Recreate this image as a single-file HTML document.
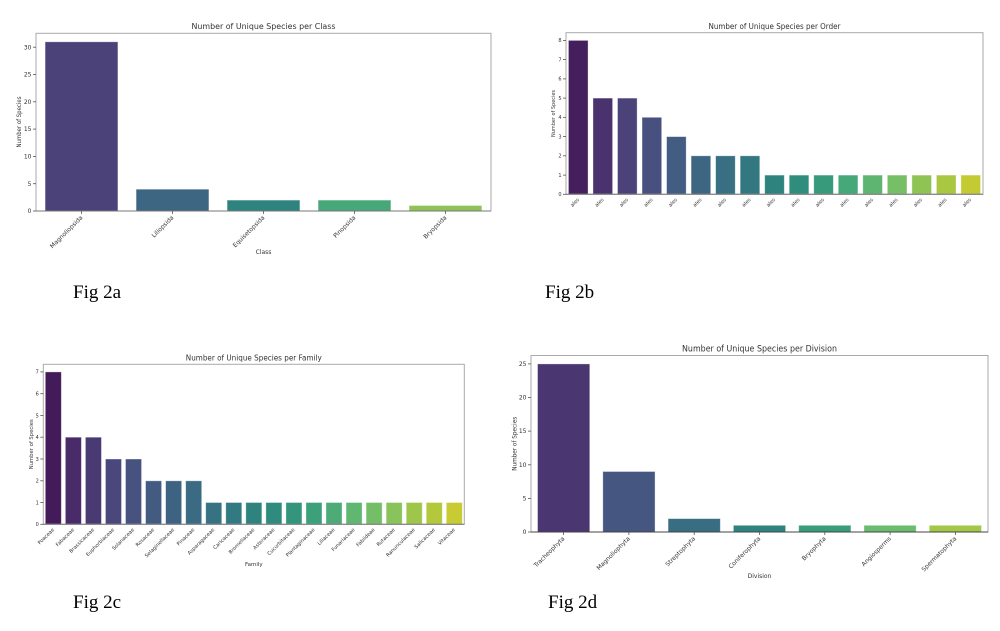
<!DOCTYPE html>
<html><head><meta charset="utf-8"><style>
html,body{margin:0;padding:0;background:#fff;}
svg{display:block;}
.t{font-family:"DejaVu Sans","Liberation Sans",sans-serif;fill:#333;}
.f{font-family:"Liberation Serif",serif;fill:#000;font-size:19px;}
.b{stroke:#fff;stroke-opacity:0.45;stroke-width:0.8;}
</style></head><body>
<svg width="1000" height="631" viewBox="0 0 1000 631" xmlns="http://www.w3.org/2000/svg">
<rect width="1000" height="631" fill="#fff"/>

<!-- ===== Chart A ===== -->
<text class="t" x="263.5" y="29" font-size="8" text-anchor="middle" textLength="144" lengthAdjust="spacingAndGlyphs">Number of Unique Species per Class</text>
<g class="b">
<rect x="45.1" y="41.8" width="72.8" height="169.2" fill="#4b4279"/>
<rect x="136.1" y="189.2" width="72.8" height="21.8" fill="#3d6682"/>
<rect x="227.1" y="200.1" width="72.8" height="10.9" fill="#2f837f"/>
<rect x="318.1" y="200.1" width="72.8" height="10.9" fill="#46a778"/>
<rect x="409.1" y="205.5" width="72.8" height="5.5" fill="#8fc455"/>
</g>
<rect x="36" y="33.3" width="455" height="177.7" fill="none" stroke="#aaa" stroke-width="1"/>
<line x1="36" y1="211" x2="491" y2="211" stroke="#777" stroke-width="1"/>
<g stroke="#555" stroke-width="0.8">
<line x1="33" y1="211" x2="36" y2="211"/><line x1="33" y1="183.7" x2="36" y2="183.7"/><line x1="33" y1="156.4" x2="36" y2="156.4"/><line x1="33" y1="129.1" x2="36" y2="129.1"/><line x1="33" y1="101.8" x2="36" y2="101.8"/><line x1="33" y1="74.5" x2="36" y2="74.5"/><line x1="33" y1="47.2" x2="36" y2="47.2"/>
<line x1="81.5" y1="211" x2="81.5" y2="214"/><line x1="172.5" y1="211" x2="172.5" y2="214"/><line x1="263.5" y1="211" x2="263.5" y2="214"/><line x1="354.5" y1="211" x2="354.5" y2="214"/><line x1="445.5" y1="211" x2="445.5" y2="214"/>
</g>
<g class="t" font-size="6" text-anchor="end">
<text x="31.5" y="213.1">0</text><text x="31.5" y="185.8">5</text><text x="31.5" y="158.5">10</text><text x="31.5" y="131.2">15</text><text x="31.5" y="103.9">20</text><text x="31.5" y="76.6">25</text><text x="31.5" y="49.3">30</text>
<text transform="translate(83,218) rotate(-45)">Magnoliopsida</text>
<text transform="translate(174,218) rotate(-45)">Liliopsida</text>
<text transform="translate(265,218) rotate(-45)">Equisetopsida</text>
<text transform="translate(356,218) rotate(-45)">Pinopsida</text>
<text transform="translate(447,218) rotate(-45)">Bryopsida</text>
</g>
<text class="t" font-size="6" transform="translate(21,122) rotate(-90)" text-anchor="middle" textLength="51" lengthAdjust="spacingAndGlyphs">Number of Species</text>
<text class="t" font-size="6" x="263.5" y="254" text-anchor="middle">Class</text>
<text class="f" x="73" y="298">Fig 2a</text>

<!-- ===== Chart B ===== -->
<text class="t" x="774.5" y="29" font-size="7.5" text-anchor="middle" textLength="132" lengthAdjust="spacingAndGlyphs">Number of Unique Species per Order</text>
<g class="b">
<rect x="568.45" y="40.4" width="19.62" height="153.9" fill="#451f5d"/>
<rect x="592.98" y="98.1" width="19.62" height="96.2" fill="#49326e"/>
<rect x="617.51" y="98.1" width="19.62" height="96.2" fill="#4b4279"/>
<rect x="642.04" y="117.3" width="19.62" height="77" fill="#48507f"/>
<rect x="666.57" y="136.6" width="19.62" height="57.7" fill="#425c82"/>
<rect x="691.1" y="155.8" width="19.62" height="38.5" fill="#3d6682"/>
<rect x="715.63" y="155.8" width="19.62" height="38.5" fill="#386f82"/>
<rect x="740.16" y="155.8" width="19.62" height="38.5" fill="#337881"/>
<rect x="764.69" y="175.1" width="19.62" height="19.2" fill="#2f837f"/>
<rect x="789.22" y="175.1" width="19.62" height="19.2" fill="#2f8d7e"/>
<rect x="813.75" y="175.1" width="19.62" height="19.2" fill="#369a7b"/>
<rect x="838.28" y="175.1" width="19.62" height="19.2" fill="#46a778"/>
<rect x="862.81" y="175.1" width="19.62" height="19.2" fill="#5eb571"/>
<rect x="887.34" y="175.1" width="19.62" height="19.2" fill="#77bf67"/>
<rect x="911.87" y="175.1" width="19.62" height="19.2" fill="#8fc455"/>
<rect x="936.4" y="175.1" width="19.62" height="19.2" fill="#a9c741"/>
<rect x="960.93" y="175.1" width="19.62" height="19.2" fill="#c4ca32"/>
</g>
<rect x="566" y="32.7" width="417" height="161.6" fill="none" stroke="#aaa" stroke-width="1"/>
<line x1="566" y1="194.3" x2="983" y2="194.3" stroke="#777" stroke-width="1"/>
<g stroke="#555" stroke-width="0.8">
<line x1="563" y1="194.3" x2="566" y2="194.3"/><line x1="563" y1="175.1" x2="566" y2="175.1"/><line x1="563" y1="155.8" x2="566" y2="155.8"/><line x1="563" y1="136.6" x2="566" y2="136.6"/><line x1="563" y1="117.3" x2="566" y2="117.3"/><line x1="563" y1="98.1" x2="566" y2="98.1"/><line x1="563" y1="78.9" x2="566" y2="78.9"/><line x1="563" y1="59.6" x2="566" y2="59.6"/><line x1="563" y1="40.4" x2="566" y2="40.4"/>
</g>
<g class="t" font-size="5" text-anchor="end">
<text x="561.5" y="196.1">0</text><text x="561.5" y="176.9">1</text><text x="561.5" y="157.6">2</text><text x="561.5" y="138.4">3</text><text x="561.5" y="119.1">4</text><text x="561.5" y="99.9">5</text><text x="561.5" y="80.7">6</text><text x="561.5" y="61.4">7</text><text x="561.5" y="42.2">8</text>
<text transform="translate(579.5,200) rotate(-45)">ales</text>
<text transform="translate(604,200) rotate(-45)">ales</text>
<text transform="translate(628.5,200) rotate(-45)">ales</text>
<text transform="translate(653,200) rotate(-45)">ales</text>
<text transform="translate(677.5,200) rotate(-45)">ales</text>
<text transform="translate(702,200) rotate(-45)">ales</text>
<text transform="translate(726.5,200) rotate(-45)">ales</text>
<text transform="translate(751,200) rotate(-45)">ales</text>
<text transform="translate(775.5,200) rotate(-45)">ales</text>
<text transform="translate(800,200) rotate(-45)">ales</text>
<text transform="translate(824.5,200) rotate(-45)">ales</text>
<text transform="translate(849,200) rotate(-45)">ales</text>
<text transform="translate(873.5,200) rotate(-45)">ales</text>
<text transform="translate(898,200) rotate(-45)">ales</text>
<text transform="translate(922.5,200) rotate(-45)">ales</text>
<text transform="translate(947,200) rotate(-45)">ales</text>
<text transform="translate(971.5,200) rotate(-45)">ales</text>
</g>
<text class="t" font-size="5.5" transform="translate(555,113.5) rotate(-90)" text-anchor="middle" textLength="47" lengthAdjust="spacingAndGlyphs">Number of Species</text>
<text class="f" x="545" y="298">Fig 2b</text>

<!-- ===== Chart C ===== -->
<text class="t" x="253.8" y="360.7" font-size="7.5" text-anchor="middle" textLength="136" lengthAdjust="spacingAndGlyphs">Number of Unique Species per Family</text>
<g class="b">
<rect x="45.31" y="371.9" width="16.04" height="152.4" fill="#441b5a"/>
<rect x="65.36" y="437.2" width="16.04" height="87.1" fill="#482b68"/>
<rect x="85.41" y="437.2" width="16.04" height="87.1" fill="#4a3a74"/>
<rect x="105.46" y="459" width="16.04" height="65.3" fill="#4a477c"/>
<rect x="125.51" y="459" width="16.04" height="65.3" fill="#475280"/>
<rect x="145.56" y="480.8" width="16.04" height="43.5" fill="#435b81"/>
<rect x="165.61" y="480.8" width="16.04" height="43.5" fill="#3e6382"/>
<rect x="185.66" y="480.8" width="16.04" height="43.5" fill="#3a6b82"/>
<rect x="205.71" y="502.5" width="16.04" height="21.8" fill="#367282"/>
<rect x="225.76" y="502.5" width="16.04" height="21.8" fill="#327a81"/>
<rect x="245.81" y="502.5" width="16.04" height="21.8" fill="#2f837f"/>
<rect x="265.86" y="502.5" width="16.04" height="21.8" fill="#2e8b7e"/>
<rect x="285.91" y="502.5" width="16.04" height="21.8" fill="#32957c"/>
<rect x="305.96" y="502.5" width="16.04" height="21.8" fill="#3ca07a"/>
<rect x="326.01" y="502.5" width="16.04" height="21.8" fill="#4cab76"/>
<rect x="346.06" y="502.5" width="16.04" height="21.8" fill="#60b771"/>
<rect x="366.11" y="502.5" width="16.04" height="21.8" fill="#75be68"/>
<rect x="386.16" y="502.5" width="16.04" height="21.8" fill="#88c35b"/>
<rect x="406.21" y="502.5" width="16.04" height="21.8" fill="#9dc64b"/>
<rect x="426.26" y="502.5" width="16.04" height="21.8" fill="#b3c83b"/>
<rect x="446.31" y="502.5" width="16.04" height="21.8" fill="#c9cb32"/>
</g>
<rect x="43.3" y="364.3" width="421" height="160" fill="none" stroke="#aaa" stroke-width="1"/>
<line x1="43.3" y1="524.3" x2="464.3" y2="524.3" stroke="#777" stroke-width="1"/>
<g stroke="#555" stroke-width="0.8">
<line x1="40.3" y1="524.3" x2="43.3" y2="524.3"/><line x1="40.3" y1="502.5" x2="43.3" y2="502.5"/><line x1="40.3" y1="480.8" x2="43.3" y2="480.8"/><line x1="40.3" y1="459" x2="43.3" y2="459"/><line x1="40.3" y1="437.2" x2="43.3" y2="437.2"/><line x1="40.3" y1="415.5" x2="43.3" y2="415.5"/><line x1="40.3" y1="393.7" x2="43.3" y2="393.7"/><line x1="40.3" y1="371.9" x2="43.3" y2="371.9"/>
</g>
<g class="t" font-size="5" text-anchor="end">
<text x="38.8" y="526.1">0</text><text x="38.8" y="504.3">1</text><text x="38.8" y="482.6">2</text><text x="38.8" y="460.8">3</text><text x="38.8" y="439">4</text><text x="38.8" y="417.3">5</text><text x="38.8" y="395.5">6</text><text x="38.8" y="373.7">7</text>
<text transform="translate(54.5,530) rotate(-45)">Poaceae</text>
<text transform="translate(74.5,530) rotate(-45)">Fabaceae</text>
<text transform="translate(94.5,530) rotate(-45)">Brassicaceae</text>
<text transform="translate(114.5,530) rotate(-45)">Euphorbiaceae</text>
<text transform="translate(134.5,530) rotate(-45)">Solanaceae</text>
<text transform="translate(154.6,530) rotate(-45)">Rosaceae</text>
<text transform="translate(174.6,530) rotate(-45)">Selaginellaceae</text>
<text transform="translate(194.7,530) rotate(-45)">Pinaceae</text>
<text transform="translate(214.7,530) rotate(-45)">Asparagaceae</text>
<text transform="translate(234.8,530) rotate(-45)">Caricaceae</text>
<text transform="translate(254.8,530) rotate(-45)">Bromeliaceae</text>
<text transform="translate(274.9,530) rotate(-45)">Asteraceae</text>
<text transform="translate(294.9,530) rotate(-45)">Cucurbitaceae</text>
<text transform="translate(315,530) rotate(-45)">Plantaginaceae</text>
<text transform="translate(335,530) rotate(-45)">Liliaceae</text>
<text transform="translate(355.1,530) rotate(-45)">Funariaceae</text>
<text transform="translate(375.1,530) rotate(-45)">Fabiideae</text>
<text transform="translate(395.2,530) rotate(-45)">Rutaceae</text>
<text transform="translate(415.2,530) rotate(-45)">Ranunculaceae</text>
<text transform="translate(435.3,530) rotate(-45)">Salicaceae</text>
<text transform="translate(455.3,530) rotate(-45)">Vitaceae</text>
</g>
<text class="t" font-size="5.5" transform="translate(33,444.3) rotate(-90)" text-anchor="middle" textLength="50" lengthAdjust="spacingAndGlyphs">Number of Species</text>
<text class="t" font-size="5.5" x="253.8" y="566" text-anchor="middle">Family</text>
<text class="f" x="73" y="608">Fig 2c</text>

<!-- ===== Chart D ===== -->
<text class="t" x="759.5" y="351.3" font-size="8.5" text-anchor="middle" textLength="155" lengthAdjust="spacingAndGlyphs">Number of Unique Species per Division</text>
<g class="b">
<rect x="537.53" y="363.9" width="52.23" height="168.1" fill="#4a3671"/>
<rect x="602.82" y="471.5" width="52.23" height="60.5" fill="#455681"/>
<rect x="668.1" y="518.6" width="52.23" height="13.4" fill="#396d82"/>
<rect x="733.39" y="525.3" width="52.23" height="6.7" fill="#2f837f"/>
<rect x="798.68" y="525.3" width="52.23" height="6.7" fill="#399d7b"/>
<rect x="863.96" y="525.3" width="52.23" height="6.7" fill="#6bbc6e"/>
<rect x="929.25" y="525.3" width="52.23" height="6.7" fill="#a3c746"/>
</g>
<rect x="531" y="355.5" width="457" height="176.5" fill="none" stroke="#aaa" stroke-width="1"/>
<line x1="531" y1="532" x2="988" y2="532" stroke="#444" stroke-width="1"/>
<g stroke="#555" stroke-width="0.8">
<line x1="528" y1="532" x2="531" y2="532"/><line x1="528" y1="498.4" x2="531" y2="498.4"/><line x1="528" y1="464.8" x2="531" y2="464.8"/><line x1="528" y1="431.1" x2="531" y2="431.1"/><line x1="528" y1="397.5" x2="531" y2="397.5"/><line x1="528" y1="363.9" x2="531" y2="363.9"/>
<line x1="563.6" y1="532" x2="563.6" y2="535"/><line x1="628.9" y1="532" x2="628.9" y2="535"/><line x1="694.2" y1="532" x2="694.2" y2="535"/><line x1="759.5" y1="532" x2="759.5" y2="535"/><line x1="824.8" y1="532" x2="824.8" y2="535"/><line x1="890.1" y1="532" x2="890.1" y2="535"/><line x1="955.4" y1="532" x2="955.4" y2="535"/>
</g>
<g class="t" font-size="6" text-anchor="end">
<text x="526.5" y="534.1">0</text><text x="526.5" y="500.5">5</text><text x="526.5" y="466.9">10</text><text x="526.5" y="433.2">15</text><text x="526.5" y="399.6">20</text><text x="526.5" y="366">25</text>
<text transform="translate(565,539) rotate(-45)">Tracheophyta</text>
<text transform="translate(630.3,539) rotate(-45)">Magnoliophyta</text>
<text transform="translate(695.6,539) rotate(-45)">Streptophyta</text>
<text transform="translate(760.9,539) rotate(-45)">Coniferophyta</text>
<text transform="translate(826.2,539) rotate(-45)">Bryophyta</text>
<text transform="translate(891.5,539) rotate(-45)">Angiosperms</text>
<text transform="translate(956.8,539) rotate(-45)">Spermatophyta</text>
</g>
<text class="t" font-size="6" transform="translate(516.5,443.8) rotate(-90)" text-anchor="middle" textLength="54" lengthAdjust="spacingAndGlyphs">Number of Species</text>
<text class="t" font-size="6" x="759.5" y="578" text-anchor="middle">Division</text>
<text class="f" x="548" y="608">Fig 2d</text>
</svg>
</body></html>
